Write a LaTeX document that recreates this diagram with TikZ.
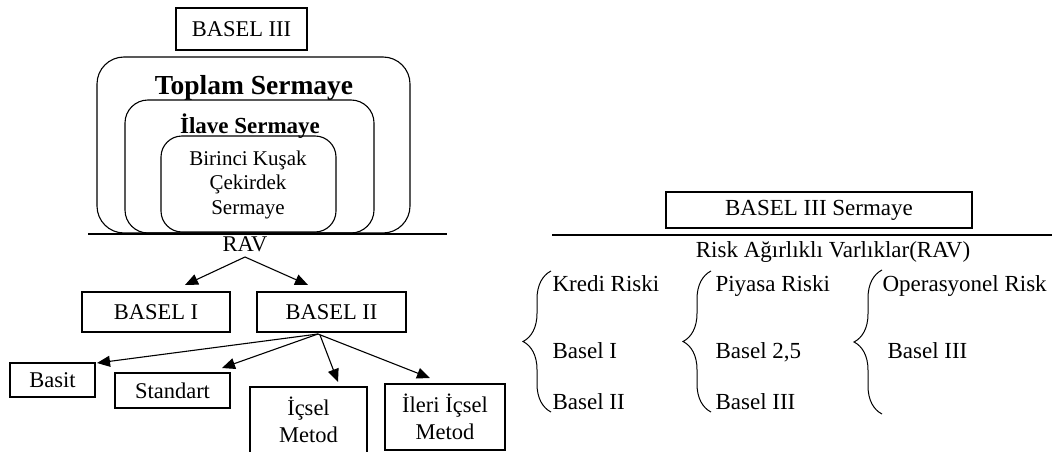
\documentclass[tikz,border=0pt]{standalone}
\usepackage{fontspec}
\setmainfont{Liberation Serif}
\usetikzlibrary{arrows.meta,decorations.pathreplacing}
\begin{document}
\begin{tikzpicture}[x=1pt,y=-1pt,line width=1.1pt,
  box/.style={draw,inner sep=0pt,minimum width=#1},
  rbox/.style={draw,inner sep=0pt},
  txt/.style={inner sep=0pt,font=\fontsize{22.5}{27}\selectfont},
  rtxt/.style={inner sep=0pt,anchor=base west,font=\fontsize{23}{27}\selectfont},
  arr/.style={-{Triangle[length=13pt,width=11pt]},line width=1.1pt},
  brc/.style={decorate,decoration={brace,amplitude=28pt,aspect=0.5},line width=1pt}]
\useasboundingbox (0,0) rectangle (1052,452);

% top
\node[box=131,minimum height=42pt,txt] (b3) at (241.5,29) {BASEL III};
\node[rbox,rounded corners=27pt,minimum width=313pt,minimum height=176pt] (outer) at (253.5,145) {};
\node[rbox,rounded corners=23pt,minimum width=249pt,minimum height=133pt] (middle) at (249.5,166.5) {};
\node[rbox,rounded corners=21pt,minimum width=175pt,minimum height=96pt] (inner) at (248.5,184) {};
\node[inner sep=0pt,anchor=base,font=\fontsize{27.5}{30}\selectfont\bfseries] (toplam) at (254,95) {Toplam Sermaye};
\node[inner sep=0pt,anchor=base,font=\fontsize{23}{27}\selectfont\bfseries] (ilave) at (250,133) {İlave Sermaye};
\node[inner sep=0pt,align=center,font=\fontsize{21}{24.5}\selectfont] (cek) at (248,184.6) {Birinci Kuşak\\Çekirdek\\Sermaye};
\coordinate (l1a) at (88,234);
\coordinate (l1b) at (447,234);
\draw[line width=1.1pt] (l1a) -- (l1b);
\node[txt,anchor=base] (rav) at (245,251) {RAV};
\coordinate (ravb) at (245,257);

% basel I / II
\node[box=148,minimum height=40pt,txt] (bI) at (156,312) {BASEL I};
\node[box=149,minimum height=40pt,txt] (bII) at (331.5,312) {BASEL II};
\coordinate (tI) at (185,285);
\coordinate (tII) at (308,285);
\draw[arr] (ravb) -- (tI);
\draw[arr] (ravb) -- (tII);

% methods
\node[box=85,minimum height=34pt,txt] (basit) at (52.5,380) {Basit};
\node[box=115,minimum height=35pt,txt] (std) at (172.5,390.5) {Standart};
\node[box=117,minimum height=66pt,txt,align=center] (icsel) at (308.5,420) {İçsel\\Metod};
\node[box=120,minimum height=66pt,txt,align=center] (ileri) at (445,417) {İleri İçsel\\Metod};
\coordinate (sII) at (318,334);
\coordinate (sII2) at (320,335);
\coordinate (tbasit) at (97,363);
\coordinate (tstd) at (222,368);
\coordinate (ticsel) at (338,382);
\coordinate (tileri) at (430,378);
\draw[arr] (sII) -- (tbasit);
\draw[arr] (sII) -- (tstd);
\draw[arr] (sII2) -- (ticsel);
\draw[arr] (sII) -- (tileri);

% right
\node[box=306,minimum height=36pt,font=\fontsize{23}{27}\selectfont,inner sep=0pt] (b3s) at (819,210) {BASEL III Sermaye};
\coordinate (l2a) at (552,235);
\coordinate (l2b) at (1052,235);
\draw[line width=1.1pt] (l2a) -- (l2b);
\node[inner sep=0pt,anchor=base,font=\fontsize{23}{27}\selectfont] (rav2) at (833,257) {Risk Ağırlıklı Varlıklar(RAV)};

\node[rtxt] (k1) at (552,291) {Kredi Riski};
\node[rtxt] (k2) at (552,358) {Basel I};
\node[rtxt] (k3) at (552,409) {Basel II};
\node[rtxt] (p1) at (715,291) {Piyasa Riski};
\node[rtxt] (p2) at (715,358) {Basel 2,5};
\node[rtxt] (p3) at (715,409) {Basel III};
\node[rtxt] (o1) at (882,291) {Operasyonel Risk};
\node[rtxt] (o2) at (887,358) {Basel III};

\coordinate (br1b) at (551,412);
\coordinate (br1t) at (551,271);
\coordinate (br2b) at (711,412);
\coordinate (br2t) at (711,271);
\coordinate (br3b) at (882,414);
\coordinate (br3t) at (882,270);
\draw[brc] (br1b) -- (br1t);
\draw[brc] (br2b) -- (br2t);
\draw[brc] (br3b) -- (br3t);
\end{tikzpicture}
\end{document}
